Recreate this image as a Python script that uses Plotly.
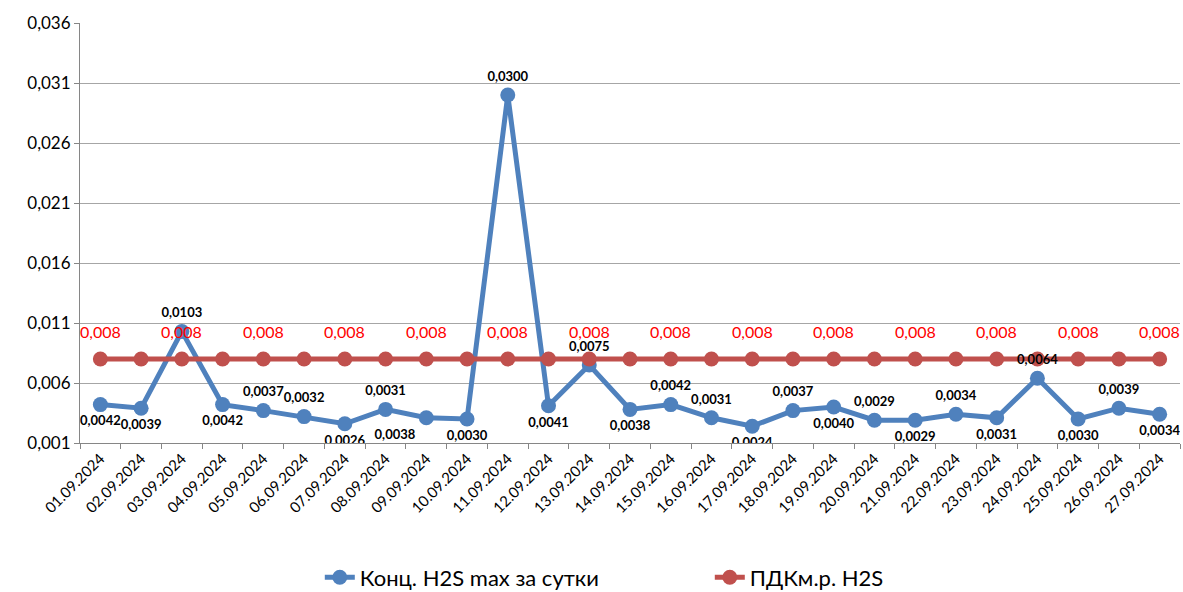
import plotly.graph_objects as go

dates = ["01.09.2024","02.09.2024","03.09.2024","04.09.2024","05.09.2024","06.09.2024",
         "07.09.2024","08.09.2024","09.09.2024","10.09.2024","11.09.2024","12.09.2024",
         "13.09.2024","14.09.2024","15.09.2024","16.09.2024","17.09.2024","18.09.2024",
         "19.09.2024","20.09.2024","21.09.2024","22.09.2024","23.09.2024","24.09.2024",
         "25.09.2024","26.09.2024","27.09.2024"]
h2s_max = [0.0042,0.0039,0.0103,0.0042,0.0037,0.0032,0.0026,0.0038,0.0031,0.0030,0.0300,0.0041,
           0.0075,0.0038,0.0042,0.0031,0.0024,0.0037,0.0040,0.0029,0.0029,0.0034,0.0031,0.0064,
           0.0030,0.0039,0.0034]
h2s_labels = ["0,0042","0,0039","0,0103","0,0042","0,0037","0,0032","0,0026","0,0031","0,0038",
              "0,0030","0,0300","0,0041","0,0075","0,0038","0,0042","0,0031","0,0024","0,0037",
              "0,0040","0,0029","0,0029","0,0034","0,0031","0,0064","0,0030","0,0039","0,0034"]
label_pos = ["bottom center","bottom center","top center","bottom center","top center",
             "top center","bottom center","top center","bottom left","bottom center",
             "top center","bottom center","top center","bottom center","top center",
             "top center","bottom center","top center","bottom center","top center",
             "bottom center","top center","bottom center","top center","bottom center",
             "top center","bottom center"]
pdk = [0.008] * len(dates)
pdk_label = "0,008"
y_ticks = [0.001,0.006,0.011,0.016,0.021,0.026,0.031,0.036]
y_ticktext = ["0,001","0,006","0,011","0,016","0,021","0,026","0,031","0,036"]

FONT = "Lato"
BLUE = "#4F81BD"
RED = "#C0504D"

fig = go.Figure()
fig.add_trace(go.Scatter(
    x=dates, y=h2s_max, mode="lines+markers", name="Конц. H2S max за сутки",
    line=dict(color=BLUE, width=5), marker=dict(color=BLUE, size=15),
))
fig.add_trace(go.Scatter(
    x=dates, y=pdk, mode="lines+markers", name="ПДКм.р. H2S",
    line=dict(color=RED, width=5), marker=dict(color=RED, size=15),
))
fig.add_trace(go.Scatter(
    x=dates, y=h2s_max, mode="markers+text", showlegend=False, hoverinfo="skip",
    marker=dict(size=16, opacity=0),
    text=["<b>%s</b>" % t for t in h2s_labels],
    textposition=label_pos,
    textfont=dict(family=FONT, size=13, color="black"),
))

for i, d in enumerate(dates):
    if i % 2 == 0:
        fig.add_annotation(x=d, y=pdk[i], text=pdk_label, showarrow=False, yshift=28,
                           font=dict(family=FONT, size=16, color="#FF0000"))

fig.update_layout(
    width=1183, height=592,
    margin=dict(l=80, r=3, t=23, b=149, autoexpand=False),
    paper_bgcolor="white", plot_bgcolor="white",
    font=dict(family=FONT, color="black"),
    showlegend=True,
    legend=dict(orientation="h", x=0.218, xanchor="left", y=-0.32, yanchor="middle",
                font=dict(family=FONT, size=22), entrywidth=345, entrywidthmode="pixels"),
)
fig.update_xaxes(
    type="category", range=[-0.5, len(dates) - 0.5], automargin=False,
    tickangle=-45, tickfont=dict(family=FONT, size=15),
    showline=True, linecolor="#868686", linewidth=1,
    ticks="outside", tickson="boundaries", ticklen=5, tickcolor="#868686",
    showgrid=False,
)
fig.update_yaxes(
    range=[0.001, 0.036], tickvals=y_ticks, ticktext=y_ticktext, automargin=False,
    tickfont=dict(family=FONT, size=17),
    showline=True, linecolor="#868686", linewidth=1,
    ticks="outside", ticklen=5, tickcolor="#868686",
    showgrid=True, gridcolor="#A6A6A6", gridwidth=1, zeroline=False,
)

fig.write_html("out.html", config={"displayModeBar": False},
               post_script="document.body.style.margin='0';document.body.style.overflow='hidden';")
